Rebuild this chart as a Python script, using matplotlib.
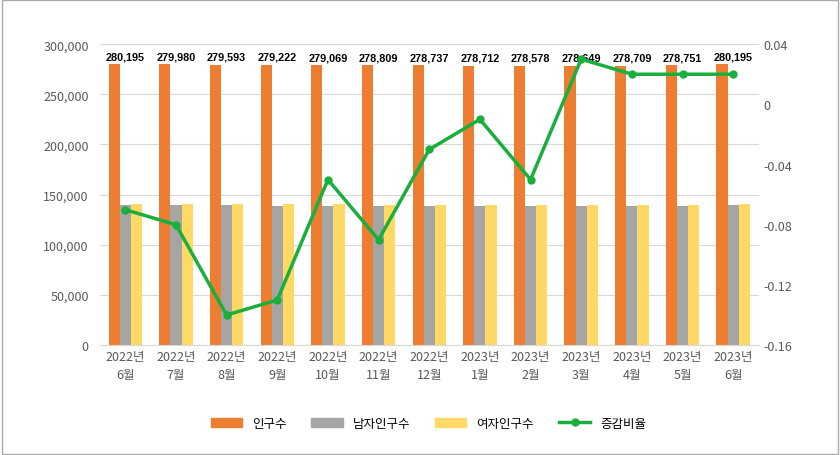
import matplotlib
matplotlib.use("Agg")
import matplotlib.pyplot as plt
from matplotlib.lines import Line2D
from matplotlib.patches import Patch
import numpy as np

plt.rcParams['font.family'] = ['Noto Sans CJK KR','Noto Sans CJK JP','Noto Sans CJK SC','DejaVu Sans']

categories = ["2022년\n6월","2022년\n7월","2022년\n8월","2022년\n9월","2022년\n10월","2022년\n11월","2022년\n12월",
              "2023년\n1월","2023년\n2월","2023년\n3월","2023년\n4월","2023년\n5월","2023년\n6월"]
total = [280195,279980,279593,279222,279069,278809,278737,278712,278578,278649,278709,278751,280195]
male = [139500,139400,139200,139000,138900,138700,138700,138700,138600,138700,138700,138700,139500]
female = [140695,140580,140393,140222,140169,140109,140037,140012,139978,139949,140009,140051,140695]
rate = [-0.07,-0.08,-0.14,-0.13,-0.05,-0.09,-0.03,-0.01,-0.05,0.03,0.02,0.02,0.02]

c_total, c_male, c_female, c_line = '#ED7D31', '#A5A5A5', '#FFD966', '#1AAF3C'

fig = plt.figure(figsize=(8.4,4.56), dpi=100)
fig.patches.append(plt.Rectangle((0.002,0.002),0.996,0.996,transform=fig.transFigure,fill=False,edgecolor='#AAAAAA',lw=1))
ax = fig.add_axes([0.119,0.241,0.784,0.66])
x = np.arange(len(categories))
w = 0.22
ax.bar(x-w, total, w, color=c_total, zorder=2)
ax.bar(x, male, w, color=c_male, zorder=2)
ax.bar(x+w, female, w, color=c_female, zorder=2)
for xi, v in zip(x, total):
    ax.text(xi, v+3000, f"{v:,}", ha='center', va='bottom', fontsize=7.8, fontweight='bold', family='Liberation Sans')
ax.set_ylim(0,300000)
ax.set_yticks(np.arange(0,300001,50000))
ax.set_yticklabels([f"{v:,}" for v in range(0,300001,50000)], color='#595959', fontsize=9)
ax.set_xlim(-0.5, len(categories)-0.5)
ax.set_xticks(x)
ax.set_xticklabels(categories, fontsize=9, color='#595959', linespacing=1.5)
ax.grid(axis='y', color='#D9D9D9', lw=0.8, zorder=0)
for s in ax.spines.values(): s.set_visible(False)
ax.spines['bottom'].set_visible(True); ax.spines['bottom'].set_color('#D9D9D9')
ax.tick_params(length=0)
ax.tick_params(axis='y', pad=8)
ax2 = ax.twinx()
ax2.plot(x, rate, color=c_line, lw=2.5, marker='o', ms=5, zorder=3)
ax2.set_ylim(-0.16,0.04)
yt = [-0.16,-0.12,-0.08,-0.04,0,0.04]
ax2.set_yticks(yt)
ax2.set_yticklabels(["-0.16","-0.12","-0.08","-0.04","0","0.04"], color='#595959', fontsize=9)
for s in ax2.spines.values(): s.set_visible(False)
ax2.tick_params(length=0)
handles = [Patch(color=c_total), Patch(color=c_male), Patch(color=c_female),
           Line2D([0],[0],color=c_line,lw=2.5,marker='o',ms=5)]
fig.legend(handles, ["인구수","남자인구수","여자인구수","증감비율"], loc='center', bbox_to_anchor=(0.51,0.07),
           ncol=4, frameon=False, fontsize=9, handlelength=2.5, columnspacing=2)
fig.savefig("out.png", dpi=100)
